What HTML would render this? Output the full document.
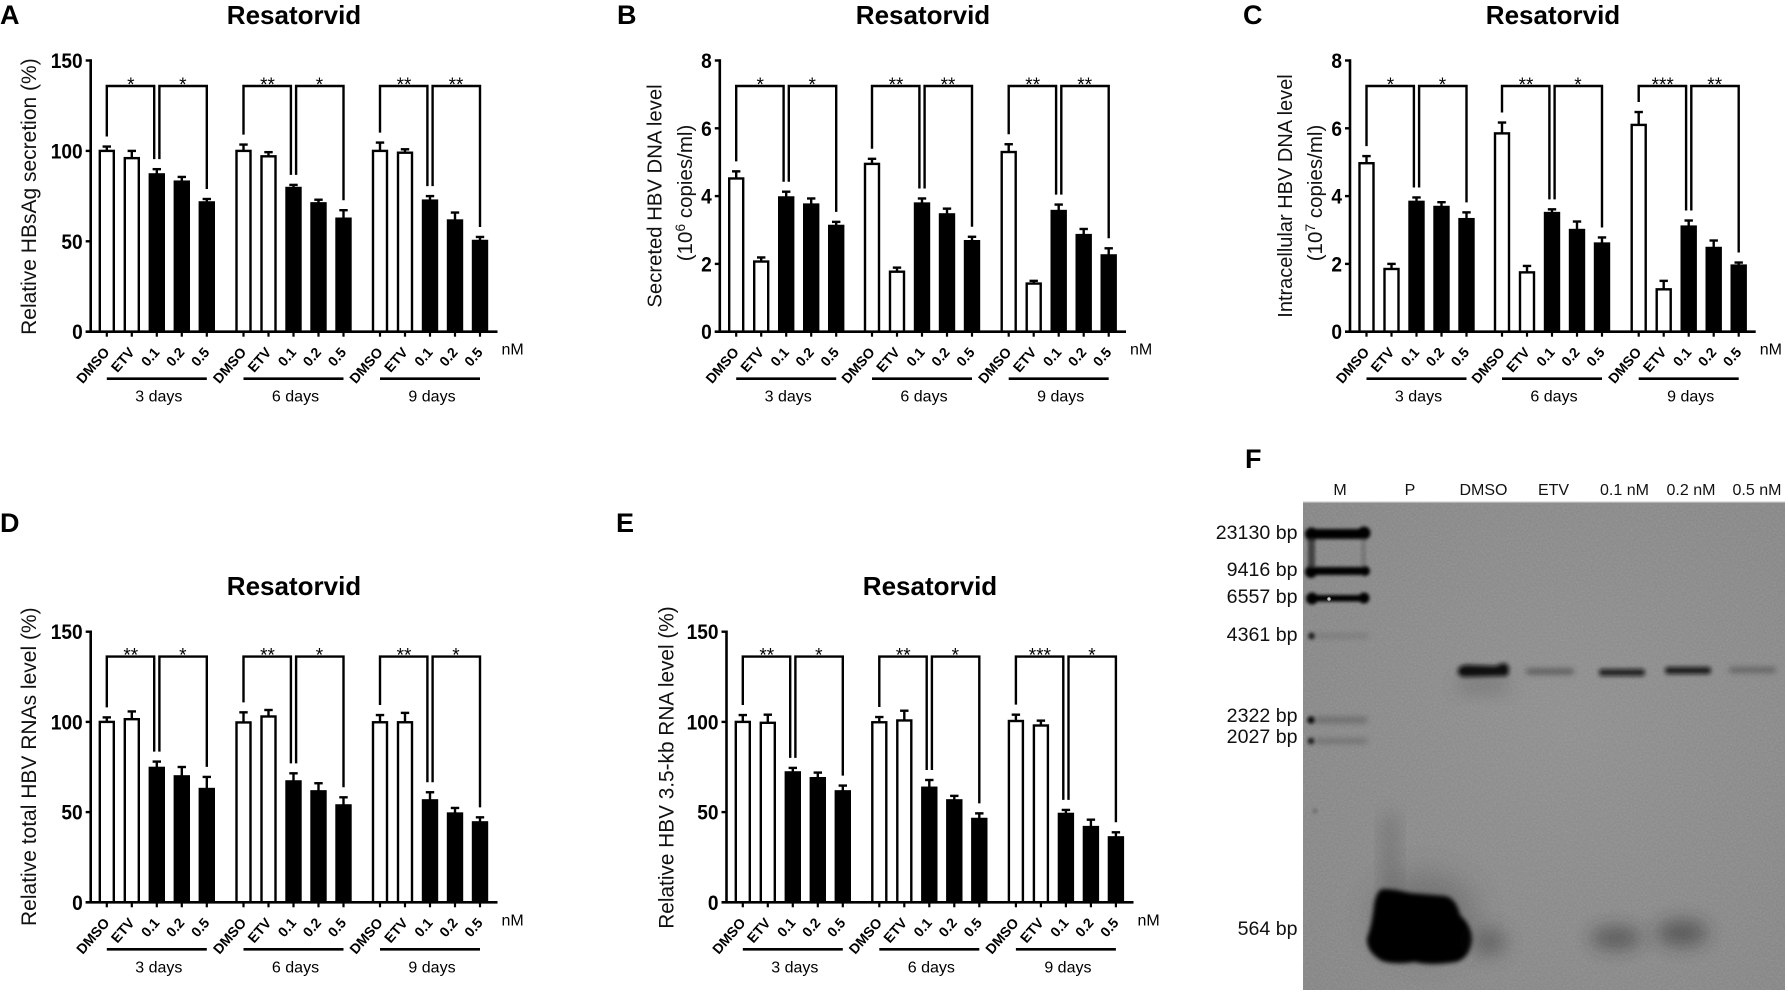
<!DOCTYPE html>
<html lang="en">
<head>
<meta charset="utf-8">
<title>Resatorvid panels</title>
<style>
  html, body { margin: 0; padding: 0; background: #fff; }
  body { width: 1788px; height: 992px; overflow: hidden; }
  svg { display: block; font-family: "Liberation Sans", Arial, sans-serif; fill: #000; }
  .title { font-size: 26px; font-weight: bold; text-anchor: middle; }
  .letter { font-size: 27px; font-weight: bold; }
  .ytitle { font-size: 20.5px; text-anchor: middle; fill: #111; }
  .gelhead { font-size: 16px; text-anchor: middle; fill: #111; }
  .gelsize { font-size: 19.6px; text-anchor: end; fill: #111; }
</style>
</head>
<body>
<svg id="figure" xmlns="http://www.w3.org/2000/svg" width="1788" height="992" viewBox="0 0 1788 992">
  <defs>
    <filter id="b1" x="-30%" y="-150%" width="160%" height="400%"><feGaussianBlur stdDeviation="1.5"/></filter>
    <filter id="b1b" x="-30%" y="-150%" width="160%" height="400%"><feGaussianBlur stdDeviation="2"/></filter>
    <filter id="b2" x="-30%" y="-200%" width="160%" height="500%"><feGaussianBlur stdDeviation="3"/></filter>
    <filter id="b3" x="-50%" y="-100%" width="200%" height="300%"><feGaussianBlur stdDeviation="9"/></filter>
    <filter id="b4" x="-50%" y="-50%" width="200%" height="200%"><feGaussianBlur stdDeviation="16"/></filter>
    <filter id="noise" x="0" y="0" width="100%" height="100%">
      <feTurbulence type="fractalNoise" baseFrequency="0.55" numOctaves="2" seed="7"/>
      <feColorMatrix type="matrix" values="0 0 0 0 0.5  0 0 0 0 0.5  0 0 0 0 0.5  1.2 0 0 0 -0.35"/>
    </filter>
    <clipPath id="gel-clip"><rect x="1303" y="502" width="482" height="488"/></clipPath>
    <radialGradient id="gel-bg" cx="55%" cy="45%" r="75%">
      <stop offset="0" stop-color="#909090"/>
      <stop offset="1" stop-color="#868686"/>
    </radialGradient>
  </defs>

  <text class="letter" x="0" y="24">A</text>
  <text class="letter" x="617" y="24">B</text>
  <text class="letter" x="1243" y="24">C</text>
  <text class="letter" x="0" y="532">D</text>
  <text class="letter" x="616" y="532">E</text>
  <text class="letter" x="1245" y="468">F</text>

  <text class="title" x="294" y="24">Resatorvid</text>
  <text class="title" x="923" y="24">Resatorvid</text>
  <text class="title" x="1553" y="24">Resatorvid</text>
  <text class="title" x="294" y="595">Resatorvid</text>
  <text class="title" x="930" y="595">Resatorvid</text>

  <text class="ytitle" style="font-size:21px" transform="translate(36 196.6) rotate(-90)">Relative HBsAg secretion (%)</text>
  <text class="ytitle" style="font-size:20.3px" transform="translate(661.5 196) rotate(-90)">Secreted HBV DNA level</text>
  <text class="ytitle" transform="translate(692 193) rotate(-90)">(10<tspan dy="-7" font-size="14">6</tspan><tspan dy="7"> copies/ml)</tspan></text>
  <text class="ytitle" style="font-size:20px" transform="translate(1292 196) rotate(-90)">Intracellular HBV DNA level</text>
  <text class="ytitle" transform="translate(1322 193) rotate(-90)">(10<tspan dy="-7" font-size="14">7</tspan><tspan dy="7"> copies/ml)</tspan></text>
  <text class="ytitle" style="font-size:21px" transform="translate(36 766.7) rotate(-90)">Relative total HBV RNAs level (%)</text>
  <text class="ytitle" style="font-size:20.8px" transform="translate(673.5 767.5) rotate(-90)">Relative HBV 3.5-kb RNA level (%)</text>

  <g id="charts"></g>

  <g id="gel">
    <rect x="1303" y="502" width="482" height="488" fill="url(#gel-bg)"/>
    <rect x="1303" y="502" width="482" height="488" filter="url(#noise)" opacity=".35"/>
    <g clip-path="url(#gel-clip)" fill="#000">
      <g filter="url(#b1)">
        <rect x="1310" y="529" width="56" height="10"/>
        <circle cx="1311.5" cy="534" r="6.5"/>
        <circle cx="1364" cy="533" r="6.5"/>
      </g>
      <g filter="url(#b1)">
        <rect x="1310" y="567" width="56" height="8"/>
        <circle cx="1311" cy="572" r="6"/>
        <circle cx="1365" cy="571" r="5"/>
      </g>
      <g filter="url(#b1)">
        <rect x="1310" y="595" width="56" height="6.5"/>
        <circle cx="1312" cy="598.5" r="6"/>
        <circle cx="1364" cy="598" r="5.5"/>
      </g>
      <circle cx="1329" cy="599" r="1.7" fill="#ccc"/>
      <rect x="1308" y="538" width="7" height="30" fill="#222" opacity=".7" filter="url(#b1)"/>
      <rect x="1361" y="538" width="5" height="30" fill="#444" opacity=".3" filter="url(#b1)"/>
      <circle cx="1311.5" cy="636" r="3.5" fill="#222" filter="url(#b1)"/>
      <rect x="1316" y="634" width="52" height="4" fill="#555" opacity=".4" filter="url(#b2)"/>
      <circle cx="1311" cy="720" r="3.8" fill="#111" filter="url(#b1)"/>
      <rect x="1315" y="717" width="52" height="6" fill="#444" opacity=".45" filter="url(#b2)"/>
      <circle cx="1311" cy="741" r="3.4" fill="#222" filter="url(#b1)"/>
      <rect x="1315" y="738.5" width="52" height="5" fill="#444" opacity=".4" filter="url(#b2)"/>
      <circle cx="1315" cy="811" r="2.5" fill="#555" opacity=".6" filter="url(#b1)"/>

      <path d="M1458 670 Q1460 664 1470 665 L1496 666 Q1502 662 1507 664 Q1511 670 1507 676 L1464 677 Q1457 676 1458 670 Z" fill="#0c0c0c" filter="url(#b1b)"/>
      <rect x="1458" y="678" width="50" height="14" fill="#333" opacity=".25" filter="url(#b3)"/>
      <rect x="1526" y="669" width="48" height="5" rx="2.5" fill="#3a3a3a" opacity=".7" filter="url(#b2)"/>
      <rect x="1599" y="669" width="46" height="7" rx="3" fill="#111" opacity=".85" filter="url(#b1b)"/>
      <rect x="1665" y="667" width="46" height="7" rx="3" fill="#0c0c0c" opacity=".9" filter="url(#b1b)"/>
      <rect x="1729" y="667.5" width="47" height="5" rx="2.5" fill="#444" opacity=".65" filter="url(#b2)"/>

      <rect x="1382" y="815" width="16" height="80" fill="#444" opacity=".3" filter="url(#b3)"/>
      <ellipse cx="1425" cy="915" rx="50" ry="40" fill="#333" opacity=".3" filter="url(#b4)"/>
      <path d="M1382 889 Q1395 889 1410 893 L1445 896 Q1456 898 1460 915 Q1472 926 1472 940 Q1470 958 1456 962 Q1430 966 1415 962 Q1395 965 1382 961 Q1366 952 1367 938 Q1372 925 1374 905 Q1376 892 1382 889 Z" filter="url(#b1b)"/>
      <ellipse cx="1489" cy="942" rx="18" ry="14" fill="#333" opacity=".4" filter="url(#b3)"/>
      <ellipse cx="1616" cy="938" rx="26" ry="11" fill="#222" opacity=".48" filter="url(#b3)"/>
      <ellipse cx="1682" cy="933" rx="26" ry="13" fill="#222" opacity=".48" filter="url(#b3)"/>
    </g>
    <rect x="1303" y="501.5" width="482" height="1.2" fill="#c4c4c4"/>
    <text class="gelhead" x="1340" y="495">M</text>
    <text class="gelhead" x="1410" y="495">P</text>
    <text class="gelhead" x="1483.5" y="495">DMSO</text>
    <text class="gelhead" x="1553.5" y="495">ETV</text>
    <text class="gelhead" x="1624.5" y="495">0.1 nM</text>
    <text class="gelhead" x="1691" y="495">0.2 nM</text>
    <text class="gelhead" x="1757" y="495">0.5 nM</text>
    <text class="gelsize" x="1297.5" y="539">23130 bp</text>
    <text class="gelsize" x="1297.5" y="576">9416 bp</text>
    <text class="gelsize" x="1297.5" y="603">6557 bp</text>
    <text class="gelsize" x="1297.5" y="641">4361 bp</text>
    <text class="gelsize" x="1297.5" y="722">2322 bp</text>
    <text class="gelsize" x="1297.5" y="743">2027 bp</text>
    <text class="gelsize" x="1297.5" y="935">564 bp</text>
  </g>
</svg>

<script>
const categories = ['DMSO', 'ETV', '0.1', '0.2', '0.5'];
const timepoints = ['3 days', '6 days', '9 days'];
const percentTicks = [0, 50, 100, 150];
const copiesTicks = [0, 2, 4, 6, 8];

const panelAMeans = [[100, 96, 87, 83, 71.5], [100, 97, 79.5, 71, 62.5], [100, 99, 72.5, 61.5, 50.2]];
const panelAErrors = [[2.4, 4, 2.9, 2.6, 1.9], [3.5, 2.3, 1.7, 2, 4.7], [4.6, 1.9, 2.5, 4.4, 2.2]];
const panelAStars = [['*', '*'], ['**', '*'], ['**', '**']];

const panelBMeans = [[4.52, 2.07, 3.96, 3.75, 3.12], [4.95, 1.77, 3.78, 3.46, 2.67], [5.3, 1.42, 3.56, 2.85, 2.25]];
const panelBErrors = [[0.21, 0.12, 0.17, 0.18, 0.12], [0.15, 0.12, 0.15, 0.17, 0.13], [0.23, 0.08, 0.19, 0.18, 0.21]];
const panelBStars = [['*', '*'], ['**', '**'], ['**', '**']];

const panelCMeans = [[4.97, 1.85, 3.83, 3.68, 3.32], [5.85, 1.75, 3.5, 3.0, 2.6], [6.1, 1.25, 3.1, 2.47, 1.95]];
const panelCErrors = [[0.21, 0.15, 0.13, 0.14, 0.2], [0.32, 0.19, 0.11, 0.25, 0.18], [0.38, 0.25, 0.18, 0.22, 0.09]];
const panelCStars = [['*', '*'], ['**', '*'], ['***', '**']];

const panelDMeans = [[100, 101.5, 74.5, 69.8, 62.8], [99.7, 103, 67, 61.5, 53.7], [99.8, 99.8, 56.5, 49.2, 44.3]];
const panelDErrors = [[2.5, 4.3, 3.5, 5.2, 6.7], [5.6, 3.6, 4.5, 4.5, 4.5], [4, 5.2, 4.5, 3.1, 2.8]];
const panelDStars = [['**', '*'], ['**', '*'], ['**', '*']];

const panelEMeans = [[100, 99.5, 72, 68.8, 61.5], [99.8, 100.8, 63.5, 56.5, 46.2], [100.5, 98, 49, 41.7, 36]];
const panelEErrors = [[3.8, 4.5, 2.5, 3.1, 3.2], [2.9, 5.4, 4.3, 2.5, 3.1], [3.5, 2.7, 2.2, 4.1, 2.8]];
const panelEStars = [['**', '*'], ['**', '*'], ['***', '*']];

const SVGNS = 'http://www.w3.org/2000/svg';
const chartsRoot = document.getElementById('charts');

function make(tag, parent, attrs, text) {
  const node = document.createElementNS(SVGNS, tag);
  for (const k in attrs) node.setAttribute(k, attrs[k]);
  if (text !== undefined) node.textContent = text;
  parent.appendChild(node);
  return node;
}

function drawPanel(p) {
  const g = make('g', chartsRoot, {});
  
  

  const yScale = v => p.y0 - (v / p.max) * (p.y0 - p.yTop);
  const barSpacing = 25;
  const xScale = (groupIndex, catIndex) => p.groupX[groupIndex] + catIndex * barSpacing;
  const bracketY = p.y0 - 245.7;

  // bars and error bars
  p.means.forEach((groupValues, gi) => {
    groupValues.forEach((value, ci) => {
      const cx = xScale(gi, ci);
      const top = yScale(value);
      const errTop = yScale(value + p.errors[gi][ci]);
      const filled = ci >= 2;

      const stem = make('line', g, { x1: cx, x2: cx, y1: top, y2: errTop, stroke: '#000', 'stroke-width': 2.4 });
      
      

      const cap = make('line', g, { x1: cx - 4.2, x2: cx + 4.2, y1: errTop, y2: errTop, stroke: '#000', 'stroke-width': 2.4 });
      
      

      const bar = make('rect', g, {
        x: cx - 7, y: top, width: 14, height: p.y0 - top,
        fill: filled ? '#000' : '#fff', stroke: '#000', 'stroke-width': 2.4
      });
      
      

      const tick = make('line', g, { x1: cx, x2: cx, y1: p.y0, y2: p.y0 + 5, stroke: '#000', 'stroke-width': 2.2 });
      
      

      const lx = cx + 3.5;
      const ly = p.y0 + 21;
      const label = make('text', g, {
        x: lx, y: ly, 'text-anchor': 'end', 'font-size': 14, 'font-weight': 'bold',
        transform: 'rotate(-49 ' + lx + ' ' + ly + ')'
      }, categories[ci]);
      
      
    });

    // group underline and label
    const x1 = xScale(gi, 0);
    const x2 = xScale(gi, categories.length - 1);
    const under = make('line', g, { x1: x1, x2: x2, y1: p.y0 + 47, y2: p.y0 + 47, stroke: '#000', 'stroke-width': 2.6 });
    
    

    const groupLabel = make('text', g, { x: (x1 + x2) / 2 + 2, y: p.y0 + 70, 'text-anchor': 'middle', 'font-size': 16 }, timepoints[gi]);
    
    

    // significance brackets, legs stop just above the error caps
    const legEnd = ci => yScale(groupValues[ci] + p.errors[gi][ci]) - 10;
    const bx0 = xScale(gi, 0);
    const bx2 = xScale(gi, 2);
    const bx4 = xScale(gi, 4);
    const left = make('path', g, {
      d: 'M' + bx0 + ' ' + legEnd(0) + ' V' + bracketY + ' H' + (bx2 - 2.6) + ' V' + legEnd(2),
      fill: 'none', stroke: '#000', 'stroke-width': 2.4
    });
    
    

    const right = make('path', g, {
      d: 'M' + (bx2 + 2.6) + ' ' + legEnd(2) + ' V' + bracketY + ' H' + bx4 + ' V' + legEnd(4),
      fill: 'none', stroke: '#000', 'stroke-width': 2.4
    });
    
    

    const star1 = make('text', g, { x: (bx0 + bx2 - 2) / 2, y: bracketY + 5, 'text-anchor': 'middle', 'font-size': 19 }, p.stars[gi][0]);
    
    

    const star2 = make('text', g, { x: (bx2 + 2 + bx4) / 2, y: bracketY + 5, 'text-anchor': 'middle', 'font-size': 19 }, p.stars[gi][1]);
    
    
  });

  // axes
  const yAxis = make('line', g, { x1: p.axisX, x2: p.axisX, y1: p.yTop - 1.2, y2: p.y0 + 1.2, stroke: '#000', 'stroke-width': 2.6 });
  
  

  const xAxis = make('line', g, { x1: p.axisX - 5, x2: p.axisEnd, y1: p.y0, y2: p.y0, stroke: '#000', 'stroke-width': 2.6 });
  
  

  p.ticks.forEach(v => {
    const y = yScale(v);
    const tick = make('line', g, { x1: p.axisX - 5, x2: p.axisX, y1: y, y2: y, stroke: '#000', 'stroke-width': 2.4 });
    
    

    const label = make('text', g, {
      'text-anchor': 'end', 'font-size': 20.8, 'font-weight': 'bold',
      transform: 'translate(' + (p.axisX - 8) + ' ' + (y + 7.5) + ') scale(.92 1)'
    }, String(v));
    
    
  });

  const unit = make('text', g, { x: p.axisEnd + 4, y: p.y0 + 23, 'font-size': 16 }, 'nM');
  
  
}

drawPanel({ id: 'a', means: panelAMeans, errors: panelAErrors, stars: panelAStars, ticks: percentTicks, max: 150,
  axisX: 90.7, axisEnd: 497.5, yTop: 60.5, y0: 331.7, groupX: [106.8, 243.5, 380] });
drawPanel({ id: 'b', means: panelBMeans, errors: panelBErrors, stars: panelBStars, ticks: copiesTicks, max: 8,
  axisX: 719.8, axisEnd: 1126, yTop: 60.5, y0: 331.7, groupX: [736.2, 872, 1008.7] });
drawPanel({ id: 'c', means: panelCMeans, errors: panelCErrors, stars: panelCStars, ticks: copiesTicks, max: 8,
  axisX: 1350, axisEnd: 1755.7, yTop: 60.5, y0: 331.7, groupX: [1366.5, 1502, 1638.7] });
drawPanel({ id: 'd', means: panelDMeans, errors: panelDErrors, stars: panelDStars, ticks: percentTicks, max: 150,
  axisX: 90.7, axisEnd: 497.5, yTop: 631.7, y0: 902.3, groupX: [106.8, 243.5, 380] });
drawPanel({ id: 'e', means: panelEMeans, errors: panelEErrors, stars: panelEStars, ticks: percentTicks, max: 150,
  axisX: 726.5, axisEnd: 1133.5, yTop: 631.7, y0: 902.3, groupX: [742.8, 879.3, 1015.9] });
</script>
</body>
</html>
